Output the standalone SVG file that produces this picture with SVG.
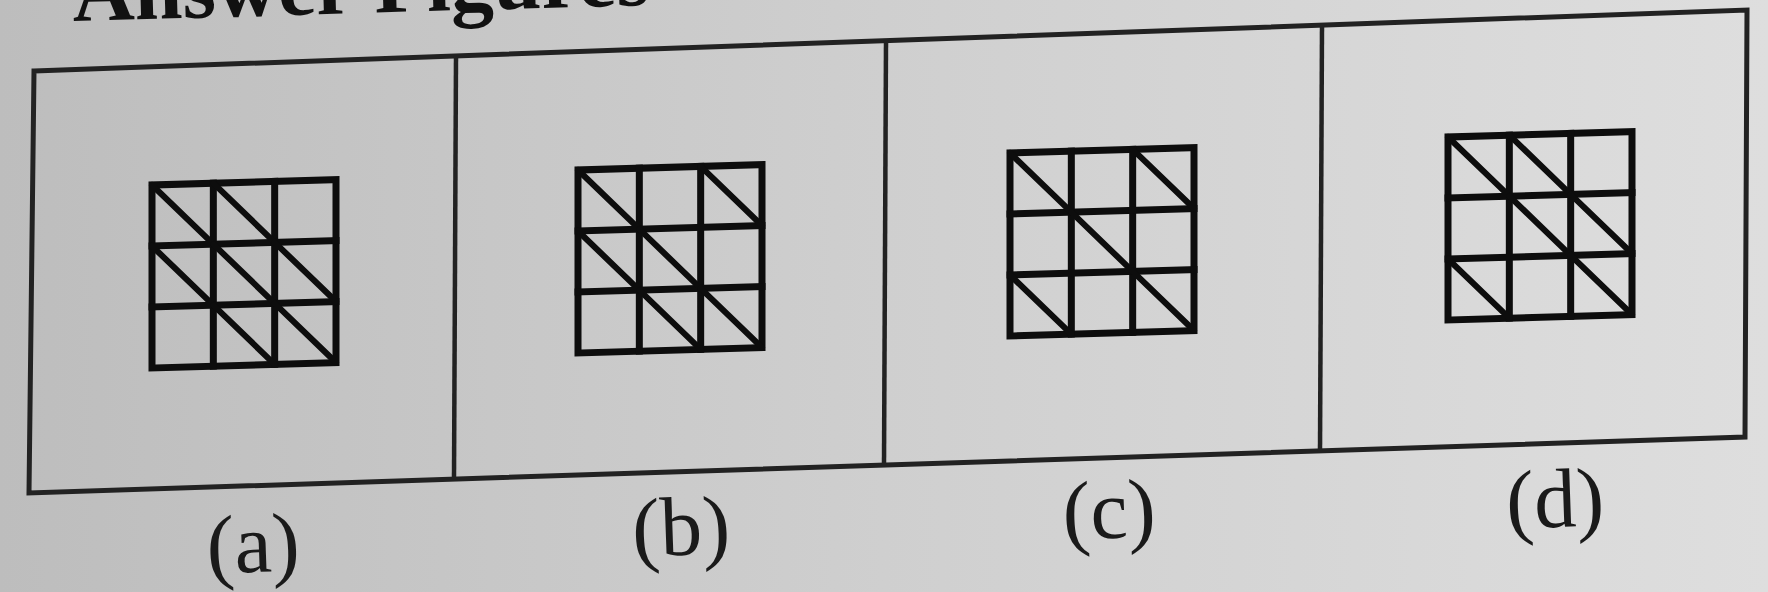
<svg xmlns="http://www.w3.org/2000/svg" xmlns:xlink="http://www.w3.org/1999/xlink" width="1768" height="592" viewBox="0 0 1768 592">
<style>
.frame{fill:none;stroke:#222;stroke-width:5;stroke-linejoin:miter}
.div{stroke:#222;stroke-width:4.5}
.gl{fill:none;stroke:#0d0d0d;stroke-width:7;stroke-linecap:square}
.dg{stroke:#0d0d0d;stroke-width:6;stroke-linecap:round}
.lbl{font-family:"Liberation Serif","Times New Roman",serif;font-size:84px;fill:#1a1a1a;text-anchor:middle}
.ttl{font-family:"Liberation Serif","Times New Roman",serif;font-size:86px;font-weight:bold;fill:#111}
</style>
<defs>
<linearGradient id="bg" x1="0" y1="0" x2="1" y2="0">
<stop offset="0" stop-color="#bdbdbd"/>
<stop offset="0.5" stop-color="#cfcfcf"/>
<stop offset="1" stop-color="#dedede"/>
</linearGradient>
<g id="gridbase">
<rect x="0" y="0" width="184" height="183" fill="#dcdcdc" fill-opacity="0.45" class="gl"/>
<line x1="61.33" y1="0" x2="61.33" y2="183" class="gl"/>
<line x1="122.67" y1="0" x2="122.67" y2="183" class="gl"/>
<line x1="0" y1="61" x2="184" y2="61" class="gl"/>
<line x1="0" y1="122" x2="184" y2="122" class="gl"/>
</g>
<line id="dg" x1="0" y1="0" x2="61.33" y2="61" class="dg"/>
</defs>
<rect x="0" y="0" width="1768" height="592" fill="url(#bg)"/>
<text class="ttl" x="73" y="21" transform="rotate(-1.6 73 21)">Answer Figures</text>
<g id="connectors">
<polygon class="frame" points="34,71 1747,10 1745,437 29,493"/>
<line class="div" x1="456" y1="55.8" x2="454" y2="479"/>
<line class="div" x1="886" y1="40.5" x2="884" y2="465"/>
<line class="div" x1="1322" y1="25" x2="1320" y2="451"/>
</g>
<g id="fig-a">
<g transform="translate(152,185) skewY(-1.7)">
<use xlink:href="#gridbase"/>
<use xlink:href="#dg" x="0" y="0"/>
<use xlink:href="#dg" x="61.33" y="0"/>
<use xlink:href="#dg" x="0" y="61"/>
<use xlink:href="#dg" x="61.33" y="61"/>
<use xlink:href="#dg" x="122.67" y="61"/>
<use xlink:href="#dg" x="61.33" y="122"/>
<use xlink:href="#dg" x="122.67" y="122"/>
</g>
<text class="lbl" x="254" y="572" transform="rotate(-2 254 572)">(a)</text>
</g>
<g id="fig-b">
<g transform="translate(578,170) skewY(-1.7)">
<use xlink:href="#gridbase"/>
<use xlink:href="#dg" x="0" y="0"/>
<use xlink:href="#dg" x="122.67" y="0"/>
<use xlink:href="#dg" x="0" y="61"/>
<use xlink:href="#dg" x="61.33" y="61"/>
<use xlink:href="#dg" x="61.33" y="122"/>
<use xlink:href="#dg" x="122.67" y="122"/>
</g>
<text class="lbl" x="682" y="555" transform="rotate(-2 682 555)">(b)</text>
</g>
<g id="fig-c">
<g transform="translate(1010,153) skewY(-1.7)">
<use xlink:href="#gridbase"/>
<use xlink:href="#dg" x="0" y="0"/>
<use xlink:href="#dg" x="122.67" y="0"/>
<use xlink:href="#dg" x="61.33" y="61"/>
<use xlink:href="#dg" x="0" y="122"/>
<use xlink:href="#dg" x="122.67" y="122"/>
</g>
<text class="lbl" x="1110" y="538" transform="rotate(-2 1110 538)">(c)</text>
</g>
<g id="fig-d">
<g transform="translate(1448,137) skewY(-1.7)">
<use xlink:href="#gridbase"/>
<use xlink:href="#dg" x="0" y="0"/>
<use xlink:href="#dg" x="61.33" y="0"/>
<use xlink:href="#dg" x="61.33" y="61"/>
<use xlink:href="#dg" x="122.67" y="61"/>
<use xlink:href="#dg" x="0" y="122"/>
<use xlink:href="#dg" x="122.67" y="122"/>
</g>
<text class="lbl" x="1556" y="527" transform="rotate(-2 1556 527)">(d)</text>
</g>
</svg>
